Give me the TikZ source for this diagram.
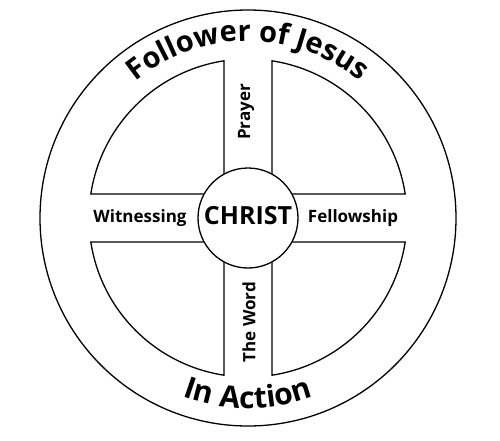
\documentclass[tikz,border=0pt]{standalone}
\usepackage{fontspec}
\setmainfont{Open Sans}
\usetikzlibrary{decorations.text}
\begin{document}
\begin{tikzpicture}[x=1pt,y=1pt,
  outline/.style={line width=1.3pt, draw=black},
  lbl/.style={font=\fontsize{17}{17}\selectfont\bfseries, inner sep=0pt},
  arctext/.style={decorate, decoration={text along path, text align=center, text={#1}}},
]
\useasboundingbox (-248,-222) rectangle (252,218);
\def\Rout{208}\def\Rin{159}\def\hw{24}\def\rc{50}
\pgfmathsetmacro\aIn{asin(\hw/\Rin)}
\pgfmathsetmacro\yIn{\Rin*cos(\aIn)}
\pgfmathsetmacro\yC{\rc*cos(asin(\hw/\rc))}
% outer ring
\draw[outline] (0,0) circle (\Rout);
% hub
\node[circle, outline, minimum size=100pt, inner sep=0pt] (hub) at (0,0) {};
\node[inner sep=0pt, font=\fontsize{25}{25}\selectfont\bfseries] (christ) at (0,2) {CHRIST};
% quadrants
\draw[outline] (-\yC,\hw) -- (-\yIn,\hw) arc[start angle=180-\aIn, end angle=90+\aIn, radius=\Rin] -- (-\hw,\yC);
\draw[outline] (\hw,\yC) -- (\hw,\yIn) arc[start angle=90-\aIn, end angle=\aIn, radius=\Rin] -- (\yC,\hw);
\draw[outline] (\yC,-\hw) -- (\yIn,-\hw) arc[start angle=-\aIn, end angle=-90+\aIn, radius=\Rin] -- (\hw,-\yC);
\draw[outline] (-\hw,-\yC) -- (-\hw,-\yIn) arc[start angle=-90-\aIn, end angle=-180+\aIn, radius=\Rin] -- (-\yC,-\hw);
% labels
\node[lbl, anchor=base] (witness) at (-108,-4.5) {Witnessing};
\node[lbl, anchor=base] (fellow) at (105,-4) {Fellowship};
\node[lbl, rotate=90] (prayer) at (-2,106) {Prayer};
\node[lbl, rotate=90] (word) at (1,-104) {The Word};
% curved titles
\path[arctext={|\fontsize{29}{29}\selectfont\bfseries|Follower of Jesus}] (160:177) arc[start angle=160, end angle=20, radius=177];
\path[arctext={|\fontsize{30}{30}\selectfont\bfseries|In Action}] (200:190) arc[start angle=200, end angle=340, radius=190];
\end{tikzpicture}
\end{document}
